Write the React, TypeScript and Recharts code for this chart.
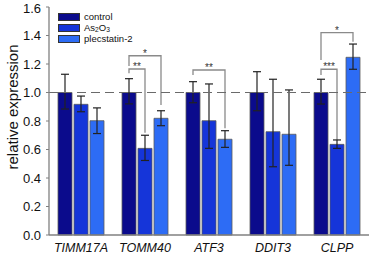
import React from 'react'
import {
  BarChart, Bar, XAxis, YAxis, ErrorBar, ReferenceLine, Rectangle, Label,
} from 'recharts'

const genes = ['TIMM17A', 'TOMM40', 'ATF3', 'DDIT3', 'CLPP']
const seriesNames = ['control', 'As2O3', 'plecstatin-2']
const seriesColors = ['#0b0b8c', '#1535d9', '#2d6cf5']

const control = [1.0, 1.0, 1.0, 1.0, 1.0]
const controlErr = [[0.116, 0.128], [0.08, 0.097], [0.072, 0.076], [0.128, 0.146], [0.081, 0.093]]
const as2o3 = [0.917, 0.608, 0.802, 0.725, 0.636]
const as2o3Err = [[0.052, 0.058], [0.085, 0.092], [0.194, 0.258], [0.246, 0.368], [0.028, 0.031]]
const plec = [0.802, 0.819, 0.672, 0.707, 1.247]
const plecErr = [[0.09, 0.09], [0.052, 0.053], [0.057, 0.06], [0.218, 0.311], [0.084, 0.093]]

// significance brackets: series index from/to, bracket level, leg ends (in y units)
const significance = [
  { gene: 'TOMM40', from: 0, to: 1, level: 1.165, leftEnd: 1.135, rightEnd: 0.718, label: '**' },
  { gene: 'TOMM40', from: 0, to: 2, level: 1.258, leftEnd: 1.186, rightEnd: 0.912, label: '*' },
  { gene: 'ATF3', from: 0, to: 2, level: 1.158, leftEnd: 1.123, rightEnd: 0.749, label: '**' },
  { gene: 'CLPP', from: 0, to: 1, level: 1.163, leftEnd: 1.123, rightEnd: 0.667, label: '***' },
  { gene: 'CLPP', from: 0, to: 2, level: 1.42, leftEnd: 1.228, rightEnd: 1.357, label: '*' },
]

const yTicks = [0, 0.2, 0.4, 0.6, 0.8, 1.0, 1.2, 1.4, 1.6]

const BAR_SIZE = 14
const BAR_GAP = 2
const FONT = '"Liberation Sans", Arial, sans-serif'

const data = genes.map((gene, i) => ({
  gene,
  control: control[i],
  controlErr: controlErr[i],
  as2o3: as2o3[i],
  as2o3Err: as2o3Err[i],
  plec: plec[i],
  plecErr: plecErr[i],
}))

// last series shape also draws the brackets, using the bar's own scale
function PlecShape(props: any) {
  const { x, y, width, height, payload, fill } = props
  const base = y + height
  const k = height / payload.plec
  const yOf = (v: number) => base - v * k
  const xs = [0, 1, 2].map((s) => x - (2 - s) * (width + BAR_GAP) + width / 2)
  const marks = significance.filter((m) => m.gene === payload.gene)
  return (
    <g>
      <Rectangle x={x} y={y} width={width} height={height} fill={fill} stroke="#5a5a5a" strokeWidth={0.8} />
      {marks.map((m, i) => {
        const xl = xs[m.from]
        const xr = xs[m.to]
        const yl = yOf(m.level)
        return (
          <g key={i}>
            <path
              d={`M${xl},${yOf(m.leftEnd)}V${yl}H${xr}V${yOf(m.rightEnd)}`}
              fill="none"
              stroke="#8a8a8a"
              strokeWidth={1.3}
            />
            <text x={(xl + xr) / 2} y={yl + 1} textAnchor="middle" fontSize={10} fill="#333" fontFamily={FONT}>
              {m.label}
            </text>
          </g>
        )
      })}
    </g>
  )
}

function YTitle(props: any) {
  const vb = props.viewBox || { x: 0, y: 0, width: 0, height: 0 }
  const cx = vb.x + 12
  const cy = vb.y + vb.height / 2 - 14
  return (
    <text x={cx} y={cy} transform={`rotate(-90, ${cx}, ${cy})`} textAnchor="middle" dominantBaseline="central"
      fontSize={15} fill="#111" fontFamily={FONT}>
      relative expression
    </text>
  )
}

const subStyle: React.CSSProperties = { fontSize: '0.7em', position: 'relative', top: 1, lineHeight: 0 }

function renderName(name: string) {
  if (name === 'As2O3') return <>As<span style={subStyle}>2</span>O<span style={subStyle}>3</span></>
  return name
}

export default function App() {
  return (
    <div style={{ position: 'absolute', left: 0, top: 0, width: 372, height: 255, background: '#fff', fontFamily: FONT }}>
      <BarChart width={372} height={255} data={data} margin={{ top: 7, right: 3, left: 0, bottom: 0 }}
        barSize={BAR_SIZE} barGap={BAR_GAP}>
        <XAxis
          dataKey="gene"
          height={20}
          tickLine={false}
          tickSize={0}
          tickMargin={8}
          axisLine={{ stroke: '#808080', strokeWidth: 1.3 }}
          tick={{ fontSize: 12.5, fill: '#111', fontStyle: 'italic', fontFamily: FONT }}
          interval={0}
        />
        <XAxis xAxisId="top" dataKey="gene" orientation="top" height={0} tick={false} tickLine={false}
          axisLine={{ stroke: '#909090', strokeWidth: 1.2 }} />
        <YAxis
          width={49}
          domain={[0, 1.6]}
          ticks={yTicks}
          tickFormatter={(v: number) => v.toFixed(1)}
          tickSize={3}
          tickMargin={5}
          tickLine={{ stroke: '#808080' }}
          axisLine={{ stroke: '#808080', strokeWidth: 1.3 }}
          tick={{ fontSize: 13, fill: '#111', fontFamily: FONT }}
        >
          <Label content={<YTitle />} />
        </YAxis>
        <YAxis yAxisId="r" orientation="right" width={0} domain={[0, 1.6]} tick={false} tickLine={false}
          axisLine={{ stroke: '#909090', strokeWidth: 1.2 }} />
        <Bar dataKey="control" fill={seriesColors[0]} stroke="#5a5a5a" strokeWidth={0.8} isAnimationActive={false}>
          <ErrorBar dataKey="controlErr" width={4} stroke="#222" strokeWidth={1.2} />
        </Bar>
        <Bar dataKey="as2o3" fill={seriesColors[1]} stroke="#5a5a5a" strokeWidth={0.8} isAnimationActive={false}>
          <ErrorBar dataKey="as2o3Err" width={4} stroke="#222" strokeWidth={1.2} />
        </Bar>
        <Bar dataKey="plec" fill={seriesColors[2]} shape={<PlecShape />} isAnimationActive={false}>
          <ErrorBar dataKey="plecErr" width={4} stroke="#222" strokeWidth={1.2} />
        </Bar>
        <ReferenceLine y={1} stroke="#6a6a6a" strokeWidth={1.2} strokeDasharray="9 5" />
      </BarChart>
      <div style={{ position: 'absolute', left: 58, top: 11, fontSize: 9.5, color: '#111', lineHeight: '11px' }}>
        {seriesNames.map((name, i) => (
          <div key={name} style={{ display: 'flex', alignItems: 'center', height: 11 }}>
            <div style={{ width: 20, height: 6, background: seriesColors[i], border: '1px solid #333', marginRight: 4 }} />
            <span style={{ whiteSpace: 'nowrap' }}>{renderName(name)}</span>
          </div>
        ))}
      </div>
    </div>
  )
}
